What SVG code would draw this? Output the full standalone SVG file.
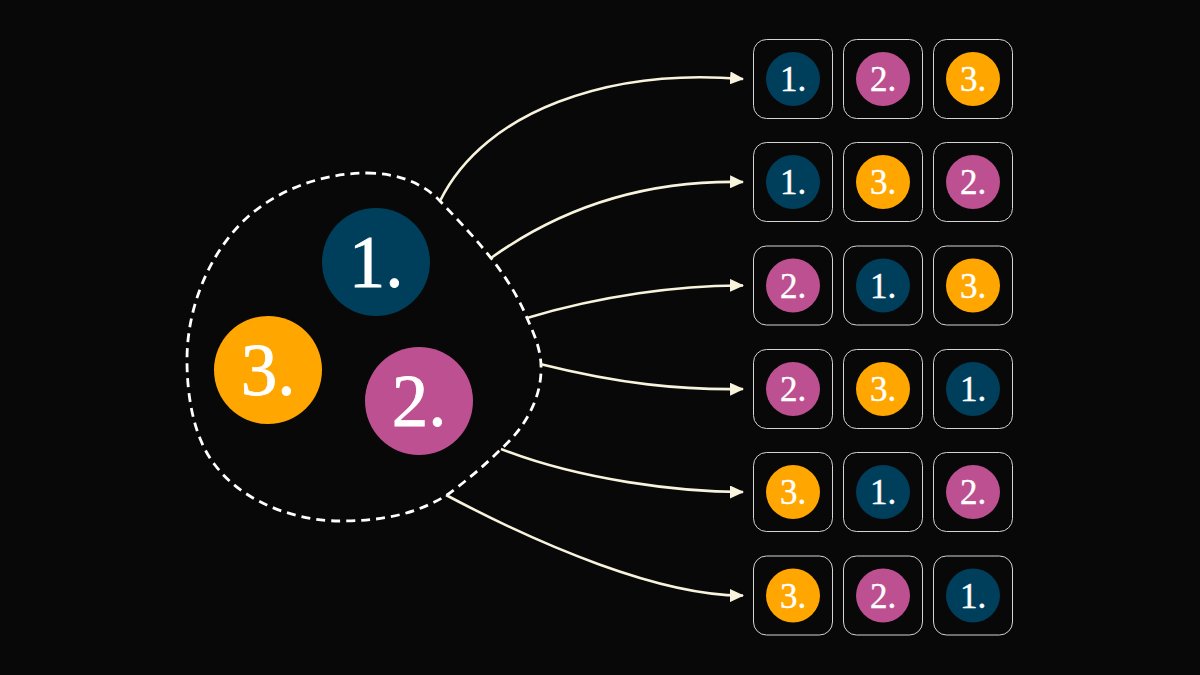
<svg xmlns="http://www.w3.org/2000/svg" width="1200" height="675" viewBox="0 0 1200 675">
<style>
.bg{fill:#080808}
.blob{fill:none;stroke:#ffffff;stroke-width:2.8;stroke-dasharray:9 6}
.conn{fill:none;stroke:#f7f3dc;stroke-width:2.6}
.box{fill:#080808;stroke:#d4d4d4;stroke-width:1}
.c1{fill:#003f5c}.c2{fill:#bc5090}.c3{fill:#ffa600}
.big{font-family:"Liberation Serif","DejaVu Serif",serif;font-size:73px;fill:#ffffff;text-anchor:middle;stroke:#ffffff;stroke-width:0.8}
.sm{font-family:"Liberation Serif","DejaVu Serif",serif;font-size:35px;fill:#ffffff;text-anchor:middle;stroke:#ffffff;stroke-width:0.4}
</style>
<defs>
<marker id="ah" markerUnits="userSpaceOnUse" markerWidth="14" markerHeight="13" refX="13" refY="6.5" orient="auto">
<path d="M0,0 L14,6.5 L0,13 z" fill="#f7f3dc"/>
</marker>
</defs>
<rect class="bg" x="0" y="0" width="1200" height="675"/>
<g id="set">
<path class="blob" d="M367,173 C400,173 425,185 440,201 C460,222 475,238 491,258 C505,276 518,296 527,318 C535,336 542,352 541,372 C540,400 525,428 500,450 C485,465 465,482 447,495 C415,515 380,521 340,521 C300,521 245,505 215,465 C195,440 187,400 187,360 C187,300 215,245 250,215 C285,185 330,173 367,173 Z"/>
<g id="big1"><circle class="c1" cx="376" cy="262" r="54"/><text class="big" x="376" y="287">1.</text></g>
<g id="big3"><circle class="c3" cx="268" cy="370" r="54"/><text class="big" x="268" y="395">3.</text></g>
<g id="big2"><circle class="c2" cx="419" cy="401" r="54"/><text class="big" x="419" y="426">2.</text></g>
</g>
<g id="connectors">
<path class="conn" marker-end="url(#ah)" d="M440,201 C485,110 610,68 743,79"/>
<path class="conn" marker-end="url(#ah)" d="M491,258 C565,205 650,180 743,182"/>
<path class="conn" marker-end="url(#ah)" d="M527,318 C600,296 680,285 743,285.5"/>
<path class="conn" marker-end="url(#ah)" d="M540,364 C620,384 680,390 743,389"/>
<path class="conn" marker-end="url(#ah)" d="M501,449 C580,480 680,492 743,492"/>
<path class="conn" marker-end="url(#ah)" d="M446,495 C540,545 660,596 743,595.5"/>
</g>
<g id="row1">
<rect class="box" x="753.5" y="39.5" width="79" height="79" rx="13"/><circle class="c1" cx="793" cy="79" r="27"/><text class="sm" x="793" y="91">1.</text>
<rect class="box" x="843.5" y="39.5" width="79" height="79" rx="13"/><circle class="c2" cx="883" cy="79" r="27"/><text class="sm" x="883" y="91">2.</text>
<rect class="box" x="933.5" y="39.5" width="79" height="79" rx="13"/><circle class="c3" cx="973" cy="79" r="27"/><text class="sm" x="973" y="91">3.</text>
</g>
<g id="row2">
<rect class="box" x="753.5" y="142.5" width="79" height="79" rx="13"/><circle class="c1" cx="793" cy="182" r="27"/><text class="sm" x="793" y="194">1.</text>
<rect class="box" x="843.5" y="142.5" width="79" height="79" rx="13"/><circle class="c3" cx="883" cy="182" r="27"/><text class="sm" x="883" y="194">3.</text>
<rect class="box" x="933.5" y="142.5" width="79" height="79" rx="13"/><circle class="c2" cx="973" cy="182" r="27"/><text class="sm" x="973" y="194">2.</text>
</g>
<g id="row3">
<rect class="box" x="753.5" y="246" width="79" height="79" rx="13"/><circle class="c2" cx="793" cy="285.5" r="27"/><text class="sm" x="793" y="297.5">2.</text>
<rect class="box" x="843.5" y="246" width="79" height="79" rx="13"/><circle class="c1" cx="883" cy="285.5" r="27"/><text class="sm" x="883" y="297.5">1.</text>
<rect class="box" x="933.5" y="246" width="79" height="79" rx="13"/><circle class="c3" cx="973" cy="285.5" r="27"/><text class="sm" x="973" y="297.5">3.</text>
</g>
<g id="row4">
<rect class="box" x="753.5" y="349.5" width="79" height="79" rx="13"/><circle class="c2" cx="793" cy="389" r="27"/><text class="sm" x="793" y="401">2.</text>
<rect class="box" x="843.5" y="349.5" width="79" height="79" rx="13"/><circle class="c3" cx="883" cy="389" r="27"/><text class="sm" x="883" y="401">3.</text>
<rect class="box" x="933.5" y="349.5" width="79" height="79" rx="13"/><circle class="c1" cx="973" cy="389" r="27"/><text class="sm" x="973" y="401">1.</text>
</g>
<g id="row5">
<rect class="box" x="753.5" y="452.5" width="79" height="79" rx="13"/><circle class="c3" cx="793" cy="492" r="27"/><text class="sm" x="793" y="504">3.</text>
<rect class="box" x="843.5" y="452.5" width="79" height="79" rx="13"/><circle class="c1" cx="883" cy="492" r="27"/><text class="sm" x="883" y="504">1.</text>
<rect class="box" x="933.5" y="452.5" width="79" height="79" rx="13"/><circle class="c2" cx="973" cy="492" r="27"/><text class="sm" x="973" y="504">2.</text>
</g>
<g id="row6">
<rect class="box" x="753.5" y="556" width="79" height="79" rx="13"/><circle class="c3" cx="793" cy="595.5" r="27"/><text class="sm" x="793" y="607.5">3.</text>
<rect class="box" x="843.5" y="556" width="79" height="79" rx="13"/><circle class="c2" cx="883" cy="595.5" r="27"/><text class="sm" x="883" y="607.5">2.</text>
<rect class="box" x="933.5" y="556" width="79" height="79" rx="13"/><circle class="c1" cx="973" cy="595.5" r="27"/><text class="sm" x="973" y="607.5">1.</text>
</g>
</svg>
